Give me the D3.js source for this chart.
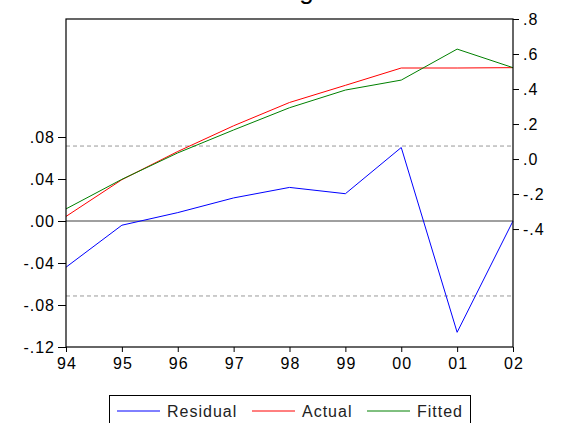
<!DOCTYPE html>
<html>
<head>
<meta charset="utf-8">
<script src="https://cdn.jsdelivr.net/npm/d3@7"></script>
<style>
  body { margin: 0; background: #fff; }
  text { font-family: "Liberation Sans", Arial, sans-serif; }
</style>
</head>
<body>
<svg id="chart" width="571" height="423"></svg>
<script>
// ---- data ----
const years = ["94", "95", "96", "97", "98", "99", "00", "01", "02"];
const actual   = [-0.328, -0.118, 0.043, 0.190, 0.323, 0.421, 0.520, 0.520, 0.522];
const fitted   = [-0.285, -0.116, 0.035, 0.166, 0.293, 0.394, 0.451, 0.628, 0.522];
const residual = [-0.044, -0.004, 0.008, 0.022, 0.032, 0.026, 0.070, -0.106, 0.000];
const stdErr = 0.0714;
const leftTicks  = [-0.12, -0.08, -0.04, 0.00, 0.04, 0.08];
const rightTicks = [-0.4, -0.2, 0.0, 0.2, 0.4, 0.6, 0.8];
const seriesNames = ["Residual", "Actual", "Fitted"];
const seriesColors = ["#0000ff", "#ff0000", "#008000"];
const titleText = "Fitting";

// ---- layout ----
const L = 66, R = 513, T = 19, B = 347;
const svg = d3.select("#chart");

const x = d3.scalePoint().domain(years).range([L, R]);
const yL = d3.scaleLinear().domain([-0.12, 0.1924]).range([B, T]);
const yR = d3.scaleLinear().domain([-1.074, 0.8]).range([B, T]);

const fmt = v => {
  let s = d3.format(".2f")(Math.abs(v)).replace(/^0/, "");
  return (v < -1e-9 ? "-" : "") + s;
};
const fmtR = v => {
  let s = d3.format(".1f")(Math.abs(v)).replace(/^0/, "");
  return (v < -1e-9 ? "-" : "") + s;
};

// title (cut off at top in the reference)
svg.append("text").attr("x", 243).attr("y", -1)
  .attr("font-size", 26).attr("fill", "#000").text(titleText);

// reference lines
svg.append("line").attr("x1", L).attr("x2", R).attr("y1", yL(0)).attr("y2", yL(0))
  .attr("stroke", "#404040").attr("stroke-width", 1);
[stdErr, -stdErr].forEach(v => {
  svg.append("line").attr("x1", L).attr("x2", R).attr("y1", yL(v)).attr("y2", yL(v))
    .attr("stroke", "#999").attr("stroke-width", 1).attr("stroke-dasharray", "4,3");
});

// series
const line = (scale) => d3.line().x((d, i) => x(years[i])).y(d => scale(d));
svg.append("path").datum(residual).attr("d", line(yL))
  .attr("fill", "none").attr("stroke", seriesColors[0]).attr("stroke-width", 1);
svg.append("path").datum(actual).attr("d", line(yR))
  .attr("fill", "none").attr("stroke", seriesColors[1]).attr("stroke-width", 1);
svg.append("path").datum(fitted).attr("d", line(yR))
  .attr("fill", "none").attr("stroke", seriesColors[2]).attr("stroke-width", 1);

// frame
svg.append("rect").attr("x", L).attr("y", T).attr("width", R - L).attr("height", B - T)
  .attr("fill", "none").attr("stroke", "#000").attr("stroke-width", 1.2);

// axes
const styleAxis = g => {
  g.select(".domain").remove();
  g.selectAll("line").attr("stroke", "#000");
  g.selectAll("text").attr("font-size", 16).attr("fill", "#000")
    .attr("letter-spacing", "1px")
    .attr("font-family", "'Liberation Sans', Arial, sans-serif");
};
svg.append("g").attr("transform", `translate(${L},0)`)
  .call(d3.axisLeft(yL).tickValues(leftTicks).tickFormat(fmt).tickSize(8).tickPadding(3))
  .call(styleAxis);
svg.append("g").attr("transform", `translate(${R},0)`)
  .call(d3.axisRight(yR).tickValues(rightTicks).tickFormat(fmtR).tickSize(6).tickPadding(4))
  .call(styleAxis);
const xg = svg.append("g").attr("transform", `translate(0,${B})`)
  .call(d3.axisBottom(x).tickSize(5).tickPadding(6))
  .call(styleAxis);
xg.selectAll("text").attr("dx", "0.5px");

// legend
svg.append("rect").attr("x", 109.5).attr("y", 395.5).attr("width", 361).attr("height", 40)
  .attr("fill", "#fff").attr("stroke", "#000").attr("stroke-width", 1);
const legX = [117, 252, 367];
seriesNames.forEach((n, i) => {
  svg.append("line").attr("x1", legX[i]).attr("x2", legX[i] + 43)
    .attr("y1", 411).attr("y2", 411).attr("stroke", seriesColors[i]).attr("stroke-width", 1);
  svg.append("text").attr("x", legX[i] + 50).attr("y", 416.5)
    .attr("font-size", 16).attr("letter-spacing", "1px").attr("fill", "#222").text(n);
});
</script>
</body>
</html>
